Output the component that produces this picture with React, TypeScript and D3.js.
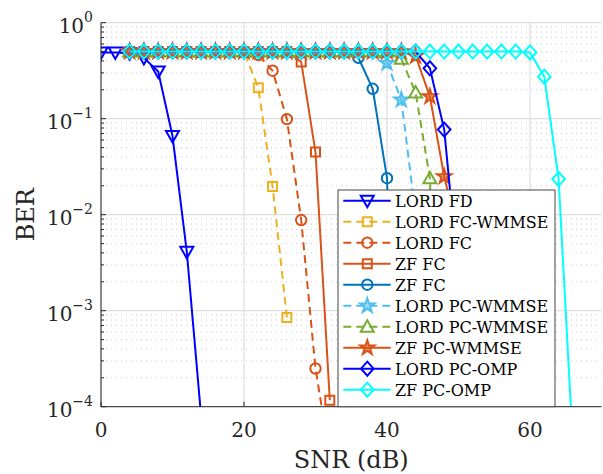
import React from 'react';
import * as d3 from 'd3';

// ---------- data ----------
const snrLordFD = [0, 2, 4, 6, 8, 10, 12, 14];
const berLordFD = [0.49, 0.49, 0.48, 0.43, 0.31, 0.066, 0.0041, 0.00008];

const snrLordFCW = [4, 6, 8, 10, 12, 14, 16, 18, 20, 22, 24, 26];
const berLordFCW = [0.5, 0.5, 0.5, 0.5, 0.5, 0.5, 0.5, 0.5, 0.5, 0.21, 0.0197, 0.00085];

const snrLordFC = [4, 6, 8, 10, 12, 14, 16, 18, 20, 22, 24, 26, 28, 30, 32];
const berLordFC = [0.5, 0.5, 0.5, 0.5, 0.5, 0.5, 0.5, 0.5, 0.5, 0.46, 0.316, 0.099, 0.0088, 0.00025, 0.00003];

const snrZfFCa = [4, 6, 8, 10, 12, 14, 16, 18, 20, 22, 24, 26, 28, 30, 32];
const berZfFCa = [0.5, 0.5, 0.5, 0.5, 0.5, 0.5, 0.5, 0.5, 0.5, 0.5, 0.5, 0.5, 0.39, 0.045, 0.000117];

const snrZfFCb = [4, 6, 8, 10, 12, 14, 16, 18, 20, 22, 24, 26, 28, 30, 32, 34, 36, 38, 40, 42];
const berZfFCb = [0.5, 0.5, 0.5, 0.5, 0.5, 0.5, 0.5, 0.5, 0.5, 0.5, 0.5, 0.5, 0.5, 0.5, 0.5, 0.5, 0.43, 0.205, 0.024, 1e-7];

const snrLordPCWa = [4, 6, 8, 10, 12, 14, 16, 18, 20, 22, 24, 26, 28, 30, 32, 34, 36, 38, 40, 42, 44, 46];
const berLordPCWa = [0.5, 0.5, 0.5, 0.5, 0.5, 0.5, 0.5, 0.5, 0.5, 0.5, 0.5, 0.5, 0.5, 0.5, 0.5, 0.5, 0.5, 0.5, 0.38, 0.157, 0.01, 1e-6];

const snrLordPCWb = [4, 6, 8, 10, 12, 14, 16, 18, 20, 22, 24, 26, 28, 30, 32, 34, 36, 38, 40, 42, 44, 46, 48];
const berLordPCWb = [0.5, 0.5, 0.5, 0.5, 0.5, 0.5, 0.5, 0.5, 0.5, 0.5, 0.5, 0.5, 0.5, 0.5, 0.5, 0.5, 0.5, 0.5, 0.5, 0.42, 0.187, 0.024, 1e-7];

const snrZfPCW = [4, 6, 8, 10, 12, 14, 16, 18, 20, 22, 24, 26, 28, 30, 32, 34, 36, 38, 40, 42, 44, 46, 48, 50, 52];
const berZfPCW = [0.5, 0.5, 0.5, 0.5, 0.5, 0.5, 0.5, 0.5, 0.5, 0.5, 0.5, 0.5, 0.5, 0.5, 0.5, 0.5, 0.5, 0.5, 0.5, 0.5, 0.45, 0.17, 0.025, 0.006, 1e-6];

const snrLordPCO = [4, 6, 8, 10, 12, 14, 16, 18, 20, 22, 24, 26, 28, 30, 32, 34, 36, 38, 40, 42, 44, 46, 48, 50, 52];
const berLordPCO = [0.5, 0.5, 0.5, 0.5, 0.5, 0.5, 0.5, 0.5, 0.5, 0.5, 0.5, 0.5, 0.5, 0.5, 0.5, 0.5, 0.5, 0.5, 0.5, 0.5, 0.5, 0.335, 0.077, 0.0022, 1e-6];

const snrZfPCO = [4, 6, 8, 10, 12, 14, 16, 18, 20, 22, 24, 26, 28, 30, 32, 34, 36, 38, 40, 42, 44, 46, 48, 50, 52, 54, 56, 58, 60, 62, 64, 66];
const berZfPCO = [0.5, 0.5, 0.5, 0.5, 0.5, 0.5, 0.5, 0.5, 0.5, 0.5, 0.5, 0.5, 0.5, 0.5, 0.5, 0.5, 0.5, 0.5, 0.5, 0.5, 0.5, 0.5, 0.5, 0.5, 0.5, 0.5, 0.5, 0.5, 0.49, 0.274, 0.0235, 0.00004];

const seriesNames = [
  'LORD FD', 'LORD FC-WMMSE', 'LORD FC', 'ZF FC', 'ZF FC',
  'LORD PC-WMMSE', 'LORD PC-WMMSE', 'ZF PC-WMMSE', 'LORD PC-OMP', 'ZF PC-OMP',
];

const xTickValues = [0, 20, 40, 60];
const yTickExponents = [0, -1, -2, -3, -4];

// ---------- styles ----------
type Marker = 'tdown' | 'tup' | 'square' | 'circle' | 'star' | 'diamond';
const seriesStyle: { color: string; dash: boolean; marker: Marker }[] = [
  { color: '#0000FF', dash: false, marker: 'tdown' },
  { color: '#EDB120', dash: true, marker: 'square' },
  { color: '#D95319', dash: true, marker: 'circle' },
  { color: '#D95319', dash: false, marker: 'square' },
  { color: '#0072BD', dash: false, marker: 'circle' },
  { color: '#4DBEEE', dash: true, marker: 'star' },
  { color: '#77AC30', dash: true, marker: 'tup' },
  { color: '#D95319', dash: false, marker: 'star' },
  { color: '#0000FF', dash: false, marker: 'diamond' },
  { color: '#00FFFF', dash: false, marker: 'diamond' },
];

const seriesData = [
  [snrLordFD, berLordFD],
  [snrLordFCW, berLordFCW],
  [snrLordFC, berLordFC],
  [snrZfFCa, berZfFCa],
  [snrZfFCb, berZfFCb],
  [snrLordPCWa, berLordPCWa],
  [snrLordPCWb, berLordPCWb],
  [snrZfPCW, berZfPCW],
  [snrLordPCO, berLordPCO],
  [snrZfPCO, berZfPCO],
];

const X0 = 101, X1 = 601.5, Y0 = 22.7, Y1 = 406.7;
const FONT = 'DejaVu Serif';

function markerPath(m: Marker): string {
  switch (m) {
    case 'tdown': return 'M-6.5,-5L6.5,-5L0,6.5Z';
    case 'tup': return 'M-6.5,5L6.5,5L0,-6.5Z';
    case 'square': return 'M-4.5,-4.5L4.5,-4.5L4.5,4.5L-4.5,4.5Z';
    case 'diamond': return 'M0,-7L6.3,0L0,7L-6.3,0Z';
    case 'circle': return 'M5.2,0A5.2,5.2 0 1 1 -5.2,0A5.2,5.2 0 1 1 5.2,0Z';
    case 'star': {
      const R = 7.5, r = R * 0.382;
      const pts: string[] = [];
      for (let i = 0; i < 10; i++) {
        const a = -Math.PI / 2 + (i * Math.PI) / 5;
        const rr = i % 2 === 0 ? R : r;
        pts.push(`${(rr * Math.cos(a)).toFixed(2)},${(rr * Math.sin(a)).toFixed(2)}`);
      }
      return 'M' + pts.join('L') + 'Z';
    }
  }
  return '';
}

function MarkerShape({ m, color, x, y }: { m: Marker; color: string; x: number; y: number }) {
  return (
    <path
      d={markerPath(m)}
      transform={`translate(${x},${y})`}
      fill={m === 'star' ? color : 'none'}
      fillOpacity={m === 'star' ? 0.55 : 0}
      stroke={color}
      strokeWidth={2}
      strokeLinejoin="miter"
    />
  );
}

export default function App() {
  const x = d3.scaleLinear().domain([0, 70]).range([X0, X1]);
  const y = d3.scaleLog().domain([1e-4, 1]).range([Y1, Y0]);

  const line = d3
    .line<[number, number]>()
    .x((d) => x(d[0]))
    .y((d) => y(d[1]));

  const minorVals: number[] = [];
  for (let e = -4; e < 0; e++) {
    for (let k = 2; k <= 9; k++) minorVals.push(k * Math.pow(10, e));
  }

  const legX = 338, legY = 190, legW = 217, legH = 216.7;
  const rowY0 = 200.7, rowDy = 21;

  return (
    <div style={{ position: 'fixed', left: 0, top: 0 }}>
      <svg width={603} height={474} style={{ display: 'block', background: '#fff' }}>
        <defs>
          <clipPath id="plotclip">
            <rect x={X0} y={Y0} width={X1 - X0} height={Y1 - Y0} />
          </clipPath>
        </defs>
        <rect x={0} y={0} width={603} height={474} fill="#fff" />

        {/* minor grid */}
        {minorVals.map((v, i) => (
          <line key={'mg' + i} x1={X0} x2={X1} y1={y(v)} y2={y(v)} stroke="#bdbdbd" strokeWidth={0.8} strokeDasharray="1,4" />
        ))}
        {/* major grid */}
        {yTickExponents.map((e) => (
          <line key={'yg' + e} x1={X0} x2={X1} y1={y(Math.pow(10, e))} y2={y(Math.pow(10, e))} stroke="#dedede" strokeWidth={1.2} />
        ))}
        {xTickValues.map((v) => (
          <line key={'xg' + v} x1={x(v)} x2={x(v)} y1={Y0} y2={Y1} stroke="#dedede" strokeWidth={1.2} />
        ))}

        {/* series */}
        <g clipPath="url(#plotclip)">
          {seriesData.map(([xs, ys], si) => {
            const st = seriesStyle[si];
            const pts: [number, number][] = xs.map((v, i) => [v, ys[i]]);
            return (
              <g key={'s' + si}>
                <path
                  d={line(pts) || ''}
                  fill="none"
                  stroke={st.color}
                  strokeWidth={2}
                  strokeDasharray={st.dash ? '8,5' : undefined}
                />
                {pts.map((p, i) => (
                  <MarkerShape key={i} m={st.marker} color={st.color} x={x(p[0])} y={y(p[1])} />
                ))}
              </g>
            );
          })}
        </g>

        {/* axes */}
        <line x1={X0} x2={X0} y1={Y0} y2={Y1} stroke="#262626" strokeWidth={1} />
        <line x1={X0} x2={X1} y1={Y1} y2={Y1} stroke="#262626" strokeWidth={1} />
        {yTickExponents.map((e) => (
          <line key={'yt' + e} x1={X0} x2={X0 + 5} y1={y(Math.pow(10, e))} y2={y(Math.pow(10, e))} stroke="#262626" strokeWidth={1} />
        ))}
        {minorVals.map((v, i) => (
          <line key={'ymt' + i} x1={X0} x2={X0 + 3} y1={y(v)} y2={y(v)} stroke="#262626" strokeWidth={1} />
        ))}
        {xTickValues.map((v) => (
          <line key={'xt' + v} x1={x(v)} x2={x(v)} y1={Y1} y2={Y1 - 5} stroke="#262626" strokeWidth={1} />
        ))}

        {/* tick labels */}
        {yTickExponents.map((e) => (
          <text key={'yl' + e} x={93} y={y(Math.pow(10, e)) + 10} textAnchor="end" fontFamily={FONT} fontSize={20} fill="#262626">
            10
            <tspan fontSize={14} dy={-11}>{e === 0 ? '0' : '\u2212' + Math.abs(e)}</tspan>
          </text>
        ))}
        {xTickValues.map((v) => (
          <text key={'xl' + v} x={x(v)} y={437} textAnchor="middle" fontFamily={FONT} fontSize={20} fill="#262626">
            {v}
          </text>
        ))}

        {/* axis titles */}
        <text x={(X0 + X1) / 2} y={468} textAnchor="middle" fontFamily={FONT} fontSize={24} fill="#262626">
          SNR (dB)
        </text>
        <text transform={`translate(34,${(Y0 + Y1) / 2}) rotate(-90)`} textAnchor="middle" fontFamily={FONT} fontSize={24} fill="#262626">
          BER
        </text>

        {/* legend */}
        <rect x={legX} y={legY} width={legW} height={legH} fill="#fff" stroke="#444" strokeWidth={1} />
        {seriesNames.map((name, i) => {
          const st = seriesStyle[i];
          const cy = rowY0 + i * rowDy;
          return (
            <g key={'lg' + i}>
              <line x1={343.3} x2={390.7} y1={cy} y2={cy} stroke={st.color} strokeWidth={2} strokeDasharray={st.dash ? '8,5' : undefined} />
              <MarkerShape m={st.marker} color={st.color} x={367.3} y={cy} />
              <text x={395} y={cy + 6} fontFamily={FONT} fontSize={16} fill="#000">
                {name}
              </text>
            </g>
          );
        })}
      </svg>
    </div>
  );
}
